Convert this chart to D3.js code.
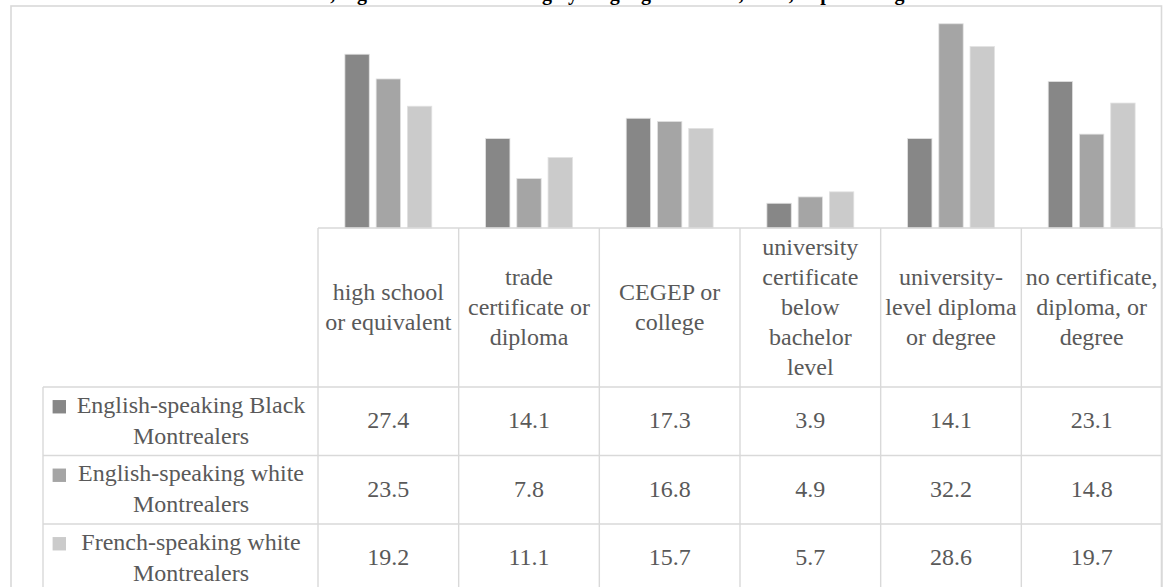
<!DOCTYPE html>
<html><head><meta charset="utf-8">
<script src="https://cdn.jsdelivr.net/npm/d3@7"></script>
<style>
body{margin:0;background:#fff}
svg{display:block}
svg text, svg tspan{font-family:"Liberation Serif","Times New Roman",serif !important;}
</style>
</head><body>
<script>
// ---- data ----
const titleText = "Montreal, highest level of schooling by language and race, 2016, in percentage";
const categories = ["high school\nor equivalent", "trade\ncertificate or\ndiploma", "CEGEP or\ncollege",
  "university\ncertificate\nbelow\nbachelor\nlevel", "university-\nlevel diploma\nor degree", "no certificate,\ndiploma, or\ndegree"];
const seriesNames = ["English-speaking Black\nMontrealers", "English-speaking white\nMontrealers", "French-speaking white\nMontrealers"];
const englishBlack = [27.4, 14.1, 17.3, 3.9, 14.1, 23.1];
const englishWhite = [23.5, 7.8, 16.8, 4.9, 32.2, 14.8];
const frenchWhite = [19.2, 11.1, 15.7, 5.7, 28.6, 19.7];
const seriesColors = ["#878787", "#a5a5a5", "#cbcbcb"];

const seriesValues = [englishBlack, englishWhite, frenchWhite];

// ---- layout ----
const W = 1164, H = 587;
const tableLeft = 318, tableRight = 1162, labelLeft = 43;
const plotTop = 6, plotBottom = 228, headerBottom = 387, rowH = 68.5;
const fam = "Liberation Serif";
const fs = 24;
const textColor = "#595959";
const gridColor = "#d9d9d9";

const svg = d3.select("body").append("svg").attr("width", W).attr("height", H);

function serif(sel, size) {
  return sel.attr("font-family", fam).attr("font-size", size)
    .style("font-family", "\"Liberation Serif\", serif", "important")
    .style("font-size", size + "px");
}

// title (cut off at the top edge, as in the reference)
serif(svg.append("text"), 20).attr("x", 582).attr("y", 0).attr("text-anchor", "middle")
  .attr("font-weight", "bold").attr("fill", "#000").text(titleText);

// outer border
svg.append("rect").attr("x", 11).attr("y", 6).attr("width", 1150.5).attr("height", 620)
  .attr("fill", "none").attr("stroke", gridColor).attr("stroke-width", 1.6);

const x0 = d3.scaleBand().domain(d3.range(categories.length)).range([tableLeft, tableRight]).padding(0);
const x1 = d3.scaleBand().domain(d3.range(seriesNames.length)).range([0, x0.bandwidth()])
  .paddingInner(0.22).paddingOuter(0.86);
const y = d3.scaleLinear().domain([0, 35]).range([plotBottom, plotTop]);

// bars
const groups = svg.append("g").selectAll("g").data(seriesValues).join("g")
  .attr("fill", (d, i) => seriesColors[i]);
groups.each(function (vals, si) {
  d3.select(this).selectAll("rect").data(vals).join("rect")
    .attr("x", (v, ci) => x0(ci) + x1(si))
    .attr("width", x1.bandwidth())
    .attr("y", v => y(v))
    .attr("height", v => y(0) - y(v))
    .attr("stroke", "#e2e2e2").attr("stroke-width", 0.8);
});

// table grid
const grid = svg.append("g").attr("stroke", gridColor).attr("stroke-width", 1.4);
const nRows = seriesNames.length;
const tableBottom = headerBottom + nRows * rowH;
grid.append("line").attr("x1", tableLeft).attr("x2", tableRight).attr("y1", plotBottom).attr("y2", plotBottom);
for (let r = 0; r <= nRows; r++) {
  const yy = headerBottom + r * rowH;
  grid.append("line").attr("x1", labelLeft).attr("x2", tableRight).attr("y1", yy).attr("y2", yy);
}
grid.append("line").attr("x1", labelLeft).attr("x2", labelLeft).attr("y1", headerBottom).attr("y2", tableBottom);
const colEdges = x0.domain().map(c => x0(c)).concat([tableRight]);
colEdges.forEach(xx => grid.append("line").attr("x1", xx).attr("x2", xx).attr("y1", plotBottom).attr("y2", tableBottom));

function txt() {
  return serif(svg.append("text"), fs).attr("text-anchor", "middle").attr("fill", textColor);
}

// header texts
const hdrCenter = (plotBottom + headerBottom) / 2;
const hdrLine = 30;
categories.forEach((c, ci) => {
  const lines = c.split("\n");
  const t = txt();
  lines.forEach((ln, i) => {
    t.append("tspan").attr("x", x0(ci) + x0.bandwidth() / 2)
      .attr("y", hdrCenter + (i - (lines.length - 1) / 2) * hdrLine + fs * 0.3).text(ln);
  });
});

// row labels + values
const rowLine = 31;
const labelCx = 191;
seriesNames.forEach((s, si) => {
  const rc = headerBottom + si * rowH + rowH / 2;
  const lines = s.split("\n");
  const t = txt();
  lines.forEach((ln, i) => t.append("tspan").attr("x", labelCx)
    .attr("y", rc + (i - (lines.length - 1) / 2) * rowLine + fs * 0.3).text(ln));
  const sw = 13.4;
  const firstY = rc - (lines.length - 1) / 2 * rowLine;
  // legend key sits just left of the first label line (line is ~238px wide, centred on labelCx)
  svg.append("rect").attr("x", labelCx - 119 - 6 - sw).attr("y", firstY - sw / 2 + 1)
    .attr("width", sw).attr("height", sw).attr("fill", seriesColors[si]);
  seriesValues[si].forEach((v, ci) => {
    txt().attr("x", x0(ci) + x0.bandwidth() / 2).attr("y", rc + fs * 0.3).text(v.toFixed(1));
  });
});
</script>
</body></html>
